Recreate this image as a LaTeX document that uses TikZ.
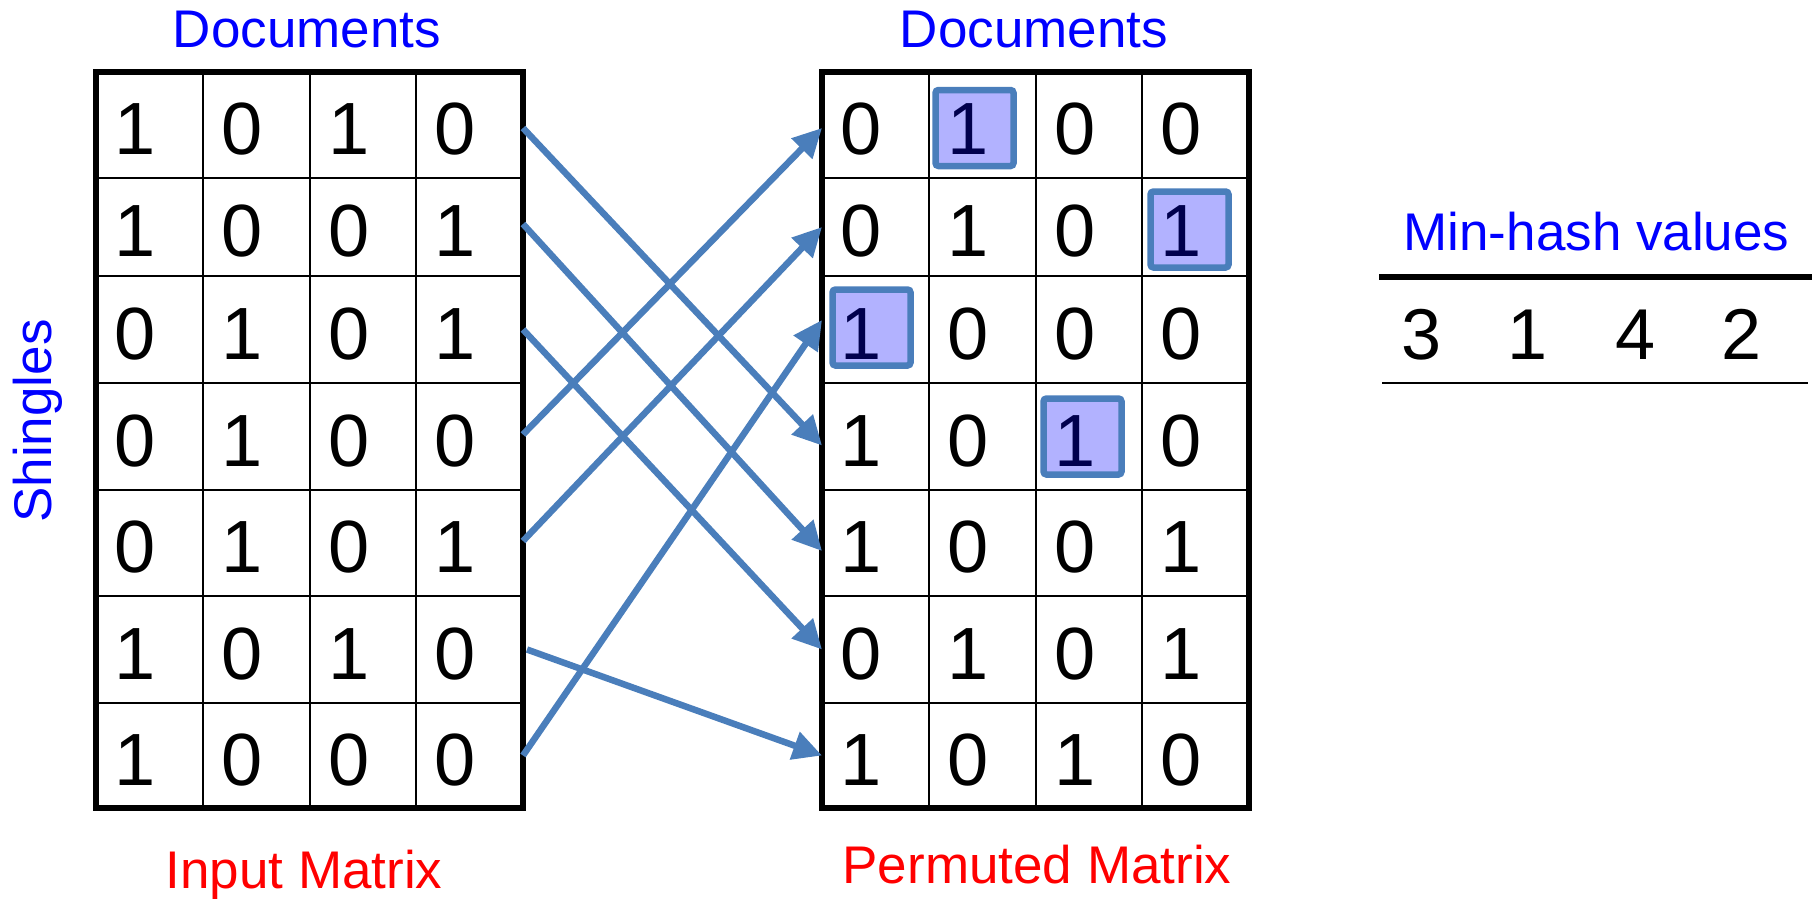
\documentclass[tikz,border=0pt]{standalone}
\usepackage{fontspec}
\setmainfont{Liberation Sans}
\usetikzlibrary{arrows.meta}

\definecolor{permblue}{HTML}{4A7EBB}
\definecolor{headblue}{HTML}{0000FF}
\definecolor{capred}{HTML}{FF0000}

\tikzset{
  cellbox/.style={draw=black, line width=2pt, rectangle, inner sep=0pt, outer sep=0pt},
  digit/.style={inner sep=0pt, outer sep=0pt, anchor=base west, font=\fontsize{74}{80}\selectfont},
  matframe/.style={draw=black, line width=5.5pt},
  matheading/.style={text=headblue, inner sep=0pt, anchor=base, font=\fontsize{53}{60}\selectfont},
  matcaption/.style={text=capred, inner sep=0pt, anchor=base, font=\fontsize{53}{60}\selectfont},
  minbox/.style={draw=permblue, line width=6.5pt, fill=blue, fill opacity=0.3,
    rounded corners=3pt, minimum width=78pt, minimum height=76pt, inner sep=0pt},
  perm/.style={draw=permblue, line width=6.5pt, -{Triangle[length=29pt,width=28pt]}},
  hashval/.style={inner sep=0pt, anchor=base, font=\fontsize{72}{80}\selectfont},
}

% row and column edges (one unit = 1pt, y grows downwards)
\def\rowedges{{72,178,276,383,490,596,703,808}}
\def\Ledges{{96,203,310,416,523}}
\def\Redges{{822,929,1036,1142,1249}}

% #1 name prefix, #2 column edges, #3 rows of bits
\newcommand{\bitmatrix}[3]{%
  \foreach \rowbits [count=\r] in {#3} {
    \foreach \bit [count=\c] in \rowbits {
      \pgfmathsetmacro\xa{#2[\c-1]}
      \pgfmathsetmacro\xb{#2[\c]}
      \pgfmathsetmacro\ya{\rowedges[\r-1]}
      \pgfmathsetmacro\yb{\rowedges[\r]}
      \node[cellbox, minimum width={(\xb-\xa)*1pt}, minimum height={(\yb-\ya)*1pt}]
        (#1-\r-\c) at ({(\xa+\xb)/2},{(\ya+\yb)/2}) {};
      \node[digit] (#1d-\r-\c) at ([xshift=18pt,yshift=-29.5pt]#1-\r-\c.west) {\bit};
    }
  }
  \draw[matframe] (#1-1-1.north west) rectangle (#1-7-4.south east);
}

\begin{document}
\begin{tikzpicture}[x=1pt,y=-1pt]
\useasboundingbox (0,0) rectangle (1820,900);

% input matrix and permuted matrix
\bitmatrix{L}{\Ledges}{{1,0,1,0},{1,0,0,1},{0,1,0,1},{0,1,0,0},{0,1,0,1},{1,0,1,0},{1,0,0,0}}
\bitmatrix{R}{\Redges}{{0,1,0,0},{0,1,0,1},{1,0,0,0},{1,0,1,0},{1,0,0,1},{0,1,0,1},{1,0,1,0}}

% first 1 in each column of the permuted matrix
\node[minbox] (hl1) at ([xshift=45.5pt,yshift=-3pt]R-1-2.west) {};
\node[minbox] (hl2) at ([xshift=47.5pt,yshift=-2.5pt]R-2-4.west) {};
\node[minbox] (hl3) at ([xshift=49.5pt,yshift=2pt]R-3-1.west) {};
\node[minbox] (hl4) at ([xshift=46.5pt]R-4-3.west) {};

% row permutation
\draw[perm] ([yshift=-3pt]L-1-4.east) -- ([yshift=-9pt]R-4-1.west);
\draw[perm] ([yshift=3pt]L-2-4.east) -- ([yshift=-8pt]R-5-1.west);
\draw[perm] (L-3-4.east) -- (R-6-1.west);
\draw[perm] ([yshift=2pt]L-4-4.east) -- ([yshift=-3pt]R-1-1.west);
\draw[perm] ([yshift=2pt]L-5-4.east) -- (R-2-1.west);
\draw[perm] ([xshift=4pt]L-6-4.east) -- (R-7-1.west);
\draw[perm] (L-7-4.east) -- ([yshift=9.5pt]R-3-1.west);

% labels
\node[matheading] (docL) at (307,47) {Documents};
\node[matheading] (docR) at (1034,47) {Documents};
\node[matheading, rotate=90] (shingles) at (51.5,421) {Shingles};
\node[matcaption] (capL) at (304,888) {Input Matrix};
\node[matcaption] (capR) at (1037,883) {Permuted Matrix};

% min-hash signature
\node[matheading] (mhtitle) at (1596.5,250) {Min-hash values};
\coordinate (topA) at (1379,277);
\coordinate (topB) at (1812,277);
\coordinate (botA) at (1382,383);
\coordinate (botB) at (1808,383);
\draw[line width=6pt] (topA) -- (topB);
\draw[line width=2pt] (botA) -- (botB);
\node[hashval] (mh1) at (1422,359) {3};
\node[hashval] (mh2) at (1528,359) {1};
\node[hashval] (mh3) at (1635,359) {4};
\node[hashval] (mh4) at (1741.5,359) {2};
\end{tikzpicture}
\end{document}
